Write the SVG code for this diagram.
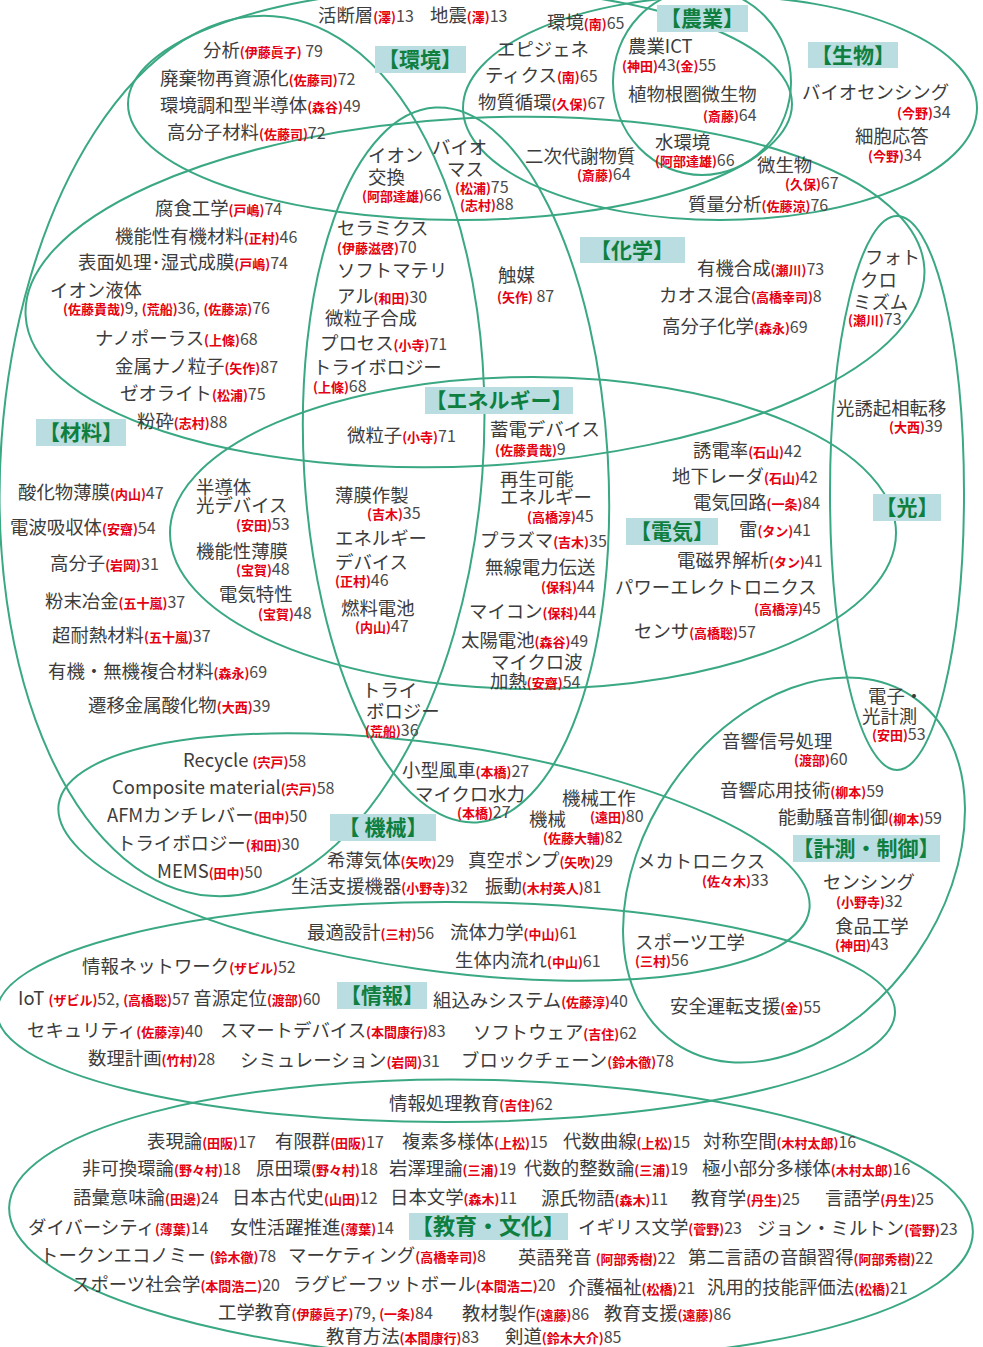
<svg xmlns="http://www.w3.org/2000/svg" width="983" height="1347" viewBox="0 0 983 1347">
<style>
text{font-family:"Noto Sans CJK JP","Noto Sans",sans-serif;font-size:18.4px;fill:#3c3c3c}
.r{fill:#e50012;font-weight:bold;font-size:13px}
.n{fill:#4a4a4a;font-size:16px}
.lab{fill:#0f7f3f;font-weight:bold;font-size:21px;text-anchor:middle}
.bg{fill:#b9dde0}
.c{fill:none;stroke:#3aa882;stroke-width:2}
</style>
<rect width="983" height="1347" fill="#ffffff"/>
<g id="regions">
<ellipse id="r-kankyo" class="c" cx="460" cy="104" rx="332" ry="116"/>
<ellipse id="r-nogyo" class="c" cx="702" cy="82" rx="89" ry="93"/>
<ellipse id="r-seibutsu" class="c" cx="720" cy="108" rx="257" ry="112"/>
<ellipse id="r-kagaku" class="c" cx="475" cy="292" rx="450" ry="174" transform="rotate(-3 475 292)"/>
<ellipse id="r-zairyo" class="c" cx="242" cy="456" rx="241" ry="441" transform="rotate(4.1 242 456)"/>
<ellipse id="r-energy" class="c" cx="456" cy="465" rx="152" ry="358" transform="rotate(-3.35 456 465)"/>
<ellipse id="r-denki" class="c" cx="533" cy="533" rx="363" ry="156"/>
<ellipse id="r-hikari" class="c" cx="897" cy="493" rx="67" ry="277"/>
<ellipse id="r-kikai" class="c" cx="434" cy="857" rx="379" ry="113" transform="rotate(8 434 857)"/>
<ellipse id="r-keisoku" class="c" cx="794" cy="870" rx="210" ry="149" transform="rotate(-55.5 794 870)"/>
<ellipse id="r-joho" class="c" cx="446" cy="1012" rx="449" ry="110"/>
<ellipse id="r-kyoiku" class="c" cx="491" cy="1220" rx="482" ry="140" transform="rotate(1.5 491 1220)"/>
</g>
<g id="labels">
<g id="l-kankyo"><rect class="bg" x="375" y="46" width="91" height="27"/><text class="lab" x="420" y="67">【環境】</text></g>
<g id="l-nogyo"><rect class="bg" x="657" y="5" width="91" height="27"/><text class="lab" x="702" y="26">【農業】</text></g>
<g id="l-seibutsu"><rect class="bg" x="808" y="42" width="90" height="26"/><text class="lab" x="853" y="63">【生物】</text></g>
<g id="l-kagaku"><rect class="bg" x="580" y="237" width="105" height="26"/><text class="lab" x="632" y="258">【化学】</text></g>
<g id="l-zairyo"><rect class="bg" x="36" y="419" width="90" height="27"/><text class="lab" x="81" y="440">【材料】</text></g>
<g id="l-energy"><rect class="bg" x="425" y="387" width="148" height="27"/><text class="lab" x="499" y="408">【エネルギー】</text></g>
<g id="l-denki"><rect class="bg" x="626" y="518" width="92" height="27"/><text class="lab" x="672" y="539">【電気】</text></g>
<g id="l-hikari"><rect class="bg" x="873" y="494" width="68" height="27"/><text class="lab" x="907" y="515">【光】</text></g>
<g id="l-kikai"><rect class="bg" x="330" y="814" width="106" height="27"/><text class="lab" x="383" y="835">【 機械】</text></g>
<g id="l-keisoku"><rect class="bg" x="793" y="835" width="147" height="27"/><text class="lab" x="866" y="856">【計測・制御】</text></g>
<g id="l-joho"><rect class="bg" x="337" y="982" width="90" height="27"/><text class="lab" x="382" y="1003">【情報】</text></g>
<g id="l-kyoiku"><rect class="bg" x="409" y="1213" width="159" height="27"/><text class="lab" x="488" y="1234" style="font-size:22px">【教育・文化】</text></g>
</g>
<g id="items-top">
<text x="318" y="22">活断層<tspan class="r">(澤)</tspan><tspan class="n">13</tspan></text>
<text x="430" y="22">地震<tspan class="r">(澤)</tspan><tspan class="n">13</tspan></text>
<text x="547" y="29">環境<tspan class="r">(南)</tspan><tspan class="n">65</tspan></text>
<text x="203" y="57">分析<tspan class="r">(伊藤眞子)</tspan><tspan class="n"> 79</tspan></text>
<text x="160" y="85">廃棄物再資源化<tspan class="r">(佐藤司)</tspan><tspan class="n">72</tspan></text>
<text x="160" y="112">環境調和型半導体<tspan class="r">(森谷)</tspan><tspan class="n">49</tspan></text>
<text x="167" y="139">高分子材料<tspan class="r">(佐藤司)</tspan><tspan class="n">72</tspan></text>
<text x="497" y="56">エピジェネ</text>
<text x="485" y="82">ティクス<tspan class="r">(南)</tspan><tspan class="n">65</tspan></text>
<text x="478" y="109">物質循環<tspan class="r">(久保)</tspan><tspan class="n">67</tspan></text>
<text x="628" y="53">農業ICT</text>
<text x="622" y="71"><tspan class="r">(神田)</tspan><tspan class="n">43</tspan><tspan class="r">(金)</tspan><tspan class="n">55</tspan></text>
<text x="628" y="101">植物根圏微生物</text>
<text x="703" y="121"><tspan class="r">(斎藤)</tspan><tspan class="n">64</tspan></text>
<text x="655" y="149">水環境</text>
<text x="655" y="166"><tspan class="r">(阿部達雄)</tspan><tspan class="n">66</tspan></text>
<text x="802" y="99">バイオセンシング</text>
<text x="897" y="118"><tspan class="r">(今野)</tspan><tspan class="n">34</tspan></text>
<text x="855" y="143">細胞応答</text>
<text x="868" y="161"><tspan class="r">(今野)</tspan><tspan class="n">34</tspan></text>
<text x="757" y="172">微生物</text>
<text x="785" y="189"><tspan class="r">(久保)</tspan><tspan class="n">67</tspan></text>
<text x="688" y="211">質量分析<tspan class="r">(佐藤涼)</tspan><tspan class="n">76</tspan></text>
<text x="525" y="163">二次代謝物質</text>
<text x="577" y="180"><tspan class="r">(斎藤)</tspan><tspan class="n">64</tspan></text>
<text x="368" y="162">イオン</text>
<text x="368" y="184">交換</text>
<text x="362" y="201"><tspan class="r">(阿部達雄)</tspan><tspan class="n">66</tspan></text>
<text x="432" y="154">バイオ</text>
<text x="447" y="176">マス</text>
<text x="455" y="193"><tspan class="r">(松浦)</tspan><tspan class="n">75</tspan></text>
<text x="460" y="210"><tspan class="r">(志村)</tspan><tspan class="n">88</tspan></text>
</g>
<g id="items-chem-mat">
<text x="155" y="215">腐食工学<tspan class="r">(戸嶋)</tspan><tspan class="n">74</tspan></text>
<text x="115" y="243">機能性有機材料<tspan class="r">(正村)</tspan><tspan class="n">46</tspan></text>
<text x="78" y="269">表面処理･湿式成膜<tspan class="r">(戸嶋)</tspan><tspan class="n">74</tspan></text>
<text x="50" y="297">イオン液体</text>
<text x="63" y="314"><tspan class="r">(佐藤貴哉)</tspan><tspan class="n">9, </tspan><tspan class="r">(荒船)</tspan><tspan class="n">36, </tspan><tspan class="r">(佐藤涼)</tspan><tspan class="n">76</tspan></text>
<text x="95" y="345">ナノポーラス<tspan class="r">(上條)</tspan><tspan class="n">68</tspan></text>
<text x="115" y="373">金属ナノ粒子<tspan class="r">(矢作)</tspan><tspan class="n">87</tspan></text>
<text x="120" y="400">ゼオライト<tspan class="r">(松浦)</tspan><tspan class="n">75</tspan></text>
<text x="137" y="428">粉砕<tspan class="r">(志村)</tspan><tspan class="n">88</tspan></text>
<text x="337" y="235">セラミクス</text>
<text x="337" y="253"><tspan class="r">(伊藤滋啓)</tspan><tspan class="n">70</tspan></text>
<text x="337" y="277">ソフトマテリ</text>
<text x="337" y="303">アル<tspan class="r">(和田)</tspan><tspan class="n">30</tspan></text>
<text x="325" y="325">微粒子合成</text>
<text x="320" y="350">プロセス<tspan class="r">(小寺)</tspan><tspan class="n">71</tspan></text>
<text x="313" y="374">トライボロジー</text>
<text x="313" y="392"><tspan class="r">(上條)</tspan><tspan class="n">68</tspan></text>
<text x="498" y="282">触媒</text>
<text x="497" y="302"><tspan class="r">(矢作)</tspan><tspan class="n"> 87</tspan></text>
<text x="697" y="275">有機合成<tspan class="r">(瀬川)</tspan><tspan class="n">73</tspan></text>
<text x="659" y="302">カオス混合<tspan class="r">(高橋幸司)</tspan><tspan class="n">8</tspan></text>
<text x="662" y="333">高分子化学<tspan class="r">(森永)</tspan><tspan class="n">69</tspan></text>
<text x="865" y="264">フォト</text>
<text x="860" y="287">クロ</text>
<text x="853" y="309">ミズム</text>
<text x="848" y="325"><tspan class="r">(瀬川)</tspan><tspan class="n">73</tspan></text>
<text x="836" y="415">光誘起相転移</text>
<text x="889" y="432"><tspan class="r">(大西)</tspan><tspan class="n">39</tspan></text>
</g>
<g id="items-energy-elec">
<text x="347" y="442">微粒子<tspan class="r">(小寺)</tspan><tspan class="n">71</tspan></text>
<text x="490" y="436">蓄電デバイス</text>
<text x="495" y="455"><tspan class="r">(佐藤貴哉)</tspan><tspan class="n">9</tspan></text>
<text x="693" y="457">誘電率<tspan class="r">(石山)</tspan><tspan class="n">42</tspan></text>
<text x="672" y="483">地下レーダ<tspan class="r">(石山)</tspan><tspan class="n">42</tspan></text>
<text x="693" y="509">電気回路<tspan class="r">(一条)</tspan><tspan class="n">84</tspan></text>
<text x="739" y="536">雷<tspan class="r">(タン)</tspan><tspan class="n">41</tspan></text>
<text x="677" y="567">電磁界解析<tspan class="r">(タン)</tspan><tspan class="n">41</tspan></text>
<text x="615" y="594">パワーエレクトロニクス</text>
<text x="754" y="614"><tspan class="r">(高橋淳)</tspan><tspan class="n">45</tspan></text>
<text x="634" y="638">センサ<tspan class="r">(高橋聡)</tspan><tspan class="n">57</tspan></text>
<text x="500" y="486">再生可能</text>
<text x="500" y="504">エネルギー</text>
<text x="527" y="522"><tspan class="r">(高橋淳)</tspan><tspan class="n">45</tspan></text>
<text x="480" y="547">プラズマ<tspan class="r">(吉木)</tspan><tspan class="n">35</tspan></text>
<text x="485" y="574">無線電力伝送</text>
<text x="541" y="592"><tspan class="r">(保科)</tspan><tspan class="n">44</tspan></text>
<text x="469" y="618">マイコン<tspan class="r">(保科)</tspan><tspan class="n">44</tspan></text>
<text x="461" y="647">太陽電池<tspan class="r">(森谷)</tspan><tspan class="n">49</tspan></text>
<text x="491" y="669">マイクロ波</text>
<text x="490" y="688">加熱<tspan class="r">(安齋)</tspan><tspan class="n">54</tspan></text>
<text x="335" y="502">薄膜作製</text>
<text x="367" y="519"><tspan class="r">(吉木)</tspan><tspan class="n">35</tspan></text>
<text x="335" y="545">エネルギー</text>
<text x="335" y="569">デバイス</text>
<text x="335" y="586"><tspan class="r">(正村)</tspan><tspan class="n">46</tspan></text>
<text x="341" y="615">燃料電池</text>
<text x="355" y="632"><tspan class="r">(内山)</tspan><tspan class="n">47</tspan></text>
<text x="196" y="494">半導体</text>
<text x="196" y="512">光デバイス</text>
<text x="236" y="530"><tspan class="r">(安田)</tspan><tspan class="n">53</tspan></text>
<text x="196" y="558">機能性薄膜</text>
<text x="236" y="575"><tspan class="r">(宝賀)</tspan><tspan class="n">48</tspan></text>
<text x="219" y="601">電気特性</text>
<text x="258" y="619"><tspan class="r">(宝賀)</tspan><tspan class="n">48</tspan></text>
<text x="18" y="499">酸化物薄膜<tspan class="r">(内山)</tspan><tspan class="n">47</tspan></text>
<text x="10" y="534">電波吸収体<tspan class="r">(安齋)</tspan><tspan class="n">54</tspan></text>
<text x="50" y="570">高分子<tspan class="r">(岩岡)</tspan><tspan class="n">31</tspan></text>
<text x="45" y="608">粉末冶金<tspan class="r">(五十嵐)</tspan><tspan class="n">37</tspan></text>
<text x="52" y="642">超耐熱材料<tspan class="r">(五十嵐)</tspan><tspan class="n">37</tspan></text>
<text x="48" y="678">有機・無機複合材料<tspan class="r">(森永)</tspan><tspan class="n">69</tspan></text>
<text x="88" y="712">遷移金属酸化物<tspan class="r">(大西)</tspan><tspan class="n">39</tspan></text>
<text x="362" y="697">トライ</text>
<text x="366" y="718">ボロジー</text>
<text x="365" y="736"><tspan class="r">(荒船)</tspan><tspan class="n">36</tspan></text>
</g>
<g id="items-mech-meas">
<text x="868" y="703">電子・</text>
<text x="862" y="723">光計測</text>
<text x="872" y="740"><tspan class="r">(安田)</tspan><tspan class="n">53</tspan></text>
<text x="722" y="748">音響信号処理</text>
<text x="794" y="765"><tspan class="r">(渡部)</tspan><tspan class="n">60</tspan></text>
<text x="720" y="797">音響応用技術<tspan class="r">(柳本)</tspan><tspan class="n">59</tspan></text>
<text x="778" y="824">能動騒音制御<tspan class="r">(柳本)</tspan><tspan class="n">59</tspan></text>
<text x="823" y="889">センシング</text>
<text x="836" y="907"><tspan class="r">(小野寺)</tspan><tspan class="n">32</tspan></text>
<text x="835" y="933">食品工学</text>
<text x="835" y="950"><tspan class="r">(神田)</tspan><tspan class="n">43</tspan></text>
<text x="183" y="767">Recycle <tspan class="r">(宍戸)</tspan><tspan class="n">58</tspan></text>
<text x="112" y="794">Composite material<tspan class="r">(宍戸)</tspan><tspan class="n">58</tspan></text>
<text x="107" y="822">AFMカンチレバー<tspan class="r">(田中)</tspan><tspan class="n">50</tspan></text>
<text x="117" y="850">トライボロジー<tspan class="r">(和田)</tspan><tspan class="n">30</tspan></text>
<text x="157" y="878">MEMS<tspan class="r">(田中)</tspan><tspan class="n">50</tspan></text>
<text x="402" y="777">小型風車<tspan class="r">(本橋)</tspan><tspan class="n">27</tspan></text>
<text x="415" y="801">マイクロ水力</text>
<text x="457" y="818"><tspan class="r">(本橋)</tspan><tspan class="n">27</tspan></text>
<text x="562" y="805">機械工作</text>
<text x="590" y="822"><tspan class="r">(遠田)</tspan><tspan class="n">80</tspan></text>
<text x="529" y="826">機械</text>
<text x="543" y="843"><tspan class="r">(佐藤大輔)</tspan><tspan class="n">82</tspan></text>
<text x="327" y="867">希薄気体<tspan class="r">(矢吹)</tspan><tspan class="n">29</tspan></text>
<text x="468" y="867">真空ポンプ<tspan class="r">(矢吹)</tspan><tspan class="n">29</tspan></text>
<text x="291" y="893">生活支援機器<tspan class="r">(小野寺)</tspan><tspan class="n">32</tspan></text>
<text x="485" y="893">振動<tspan class="r">(木村英人)</tspan><tspan class="n">81</tspan></text>
<text x="637" y="868">メカトロニクス</text>
<text x="702" y="886"><tspan class="r">(佐々木)</tspan><tspan class="n">33</tspan></text>
<text x="307" y="939">最適設計<tspan class="r">(三村)</tspan><tspan class="n">56</tspan></text>
<text x="450" y="939">流体力学<tspan class="r">(中山)</tspan><tspan class="n">61</tspan></text>
<text x="455" y="967">生体内流れ<tspan class="r">(中山)</tspan><tspan class="n">61</tspan></text>
<text x="635" y="949">スポーツ工学</text>
<text x="635" y="966"><tspan class="r">(三村)</tspan><tspan class="n">56</tspan></text>
</g>
<g id="items-info">
<text x="82" y="973">情報ネットワーク<tspan class="r">(ザビル)</tspan><tspan class="n">52</tspan></text>
<text x="18" y="1005">IoT <tspan class="r">(ザビル)</tspan><tspan class="n">52, </tspan><tspan class="r">(高橋聡)</tspan><tspan class="n">57 </tspan>音源定位<tspan class="r">(渡部)</tspan><tspan class="n">60</tspan></text>
<text x="433" y="1007">組込みシステム<tspan class="r">(佐藤淳)</tspan><tspan class="n">40</tspan></text>
<text x="670" y="1013">安全運転支援<tspan class="r">(金)</tspan><tspan class="n">55</tspan></text>
<text x="27" y="1037">セキュリティ<tspan class="r">(佐藤淳)</tspan><tspan class="n">40</tspan></text>
<text x="220" y="1037">スマートデバイス<tspan class="r">(本間康行)</tspan><tspan class="n">83</tspan></text>
<text x="473" y="1039">ソフトウェア<tspan class="r">(吉住)</tspan><tspan class="n">62</tspan></text>
<text x="88" y="1065">数理計画<tspan class="r">(竹村)</tspan><tspan class="n">28</tspan></text>
<text x="240" y="1067">シミュレーション<tspan class="r">(岩岡)</tspan><tspan class="n">31</tspan></text>
<text x="461" y="1067">ブロックチェーン<tspan class="r">(鈴木徹)</tspan><tspan class="n">78</tspan></text>
<text x="389" y="1110">情報処理教育<tspan class="r">(吉住)</tspan><tspan class="n">62</tspan></text>
</g>
<g id="items-edu">
<text x="147" y="1148">表現論<tspan class="r">(田阪)</tspan><tspan class="n">17</tspan></text>
<text x="275" y="1148">有限群<tspan class="r">(田阪)</tspan><tspan class="n">17</tspan></text>
<text x="402" y="1148">複素多様体<tspan class="r">(上松)</tspan><tspan class="n">15</tspan></text>
<text x="563" y="1148">代数曲線<tspan class="r">(上松)</tspan><tspan class="n">15</tspan></text>
<text x="703" y="1148">対称空間<tspan class="r">(木村太郎)</tspan><tspan class="n">16</tspan></text>
<text x="82" y="1175">非可換環論<tspan class="r">(野々村)</tspan><tspan class="n">18</tspan></text>
<text x="256" y="1175">原田環<tspan class="r">(野々村)</tspan><tspan class="n">18</tspan></text>
<text x="389" y="1175">岩澤理論<tspan class="r">(三浦)</tspan><tspan class="n">19</tspan></text>
<text x="524" y="1175">代数的整数論<tspan class="r">(三浦)</tspan><tspan class="n">19</tspan></text>
<text x="702" y="1175">極小部分多様体<tspan class="r">(木村太郎)</tspan><tspan class="n">16</tspan></text>
<text x="73" y="1204">語彙意味論<tspan class="r">(田邊)</tspan><tspan class="n">24</tspan></text>
<text x="232" y="1204">日本古代史<tspan class="r">(山田)</tspan><tspan class="n">12</tspan></text>
<text x="390" y="1204">日本文学<tspan class="r">(森木)</tspan><tspan class="n">11</tspan></text>
<text x="541" y="1205">源氏物語<tspan class="r">(森木)</tspan><tspan class="n">11</tspan></text>
<text x="691" y="1205">教育学<tspan class="r">(丹生)</tspan><tspan class="n">25</tspan></text>
<text x="825" y="1205">言語学<tspan class="r">(丹生)</tspan><tspan class="n">25</tspan></text>
<text x="28" y="1234">ダイバーシティ<tspan class="r">(薄葉)</tspan><tspan class="n">14</tspan></text>
<text x="230" y="1234">女性活躍推進<tspan class="r">(薄葉)</tspan><tspan class="n">14</tspan></text>
<text x="578" y="1234">イギリス文学<tspan class="r">(菅野)</tspan><tspan class="n">23</tspan></text>
<text x="757" y="1235">ジョン・ミルトン<tspan class="r">(菅野)</tspan><tspan class="n">23</tspan></text>
<text x="40" y="1262">トークンエコノミー <tspan class="r">(鈴木徹)</tspan><tspan class="n">78</tspan></text>
<text x="288" y="1262">マーケティング<tspan class="r">(高橋幸司)</tspan><tspan class="n">8</tspan></text>
<text x="518" y="1264">英語発音 <tspan class="r">(阿部秀樹)</tspan><tspan class="n">22</tspan></text>
<text x="688" y="1264">第二言語の音韻習得<tspan class="r">(阿部秀樹)</tspan><tspan class="n">22</tspan></text>
<text x="72" y="1291">スポーツ社会学<tspan class="r">(本間浩二)</tspan><tspan class="n">20</tspan></text>
<text x="293" y="1291">ラグビーフットボール<tspan class="r">(本間浩二)</tspan><tspan class="n">20</tspan></text>
<text x="568" y="1294">介護福祉<tspan class="r">(松橋)</tspan><tspan class="n">21</tspan></text>
<text x="707" y="1294">汎用的技能評価法<tspan class="r">(松橋)</tspan><tspan class="n">21</tspan></text>
<text x="218" y="1319">工学教育<tspan class="r">(伊藤眞子)</tspan><tspan class="n">79, </tspan><tspan class="r">(一条)</tspan><tspan class="n">84</tspan></text>
<text x="462" y="1320">教材製作<tspan class="r">(遠藤)</tspan><tspan class="n">86</tspan></text>
<text x="604" y="1320">教育支援<tspan class="r">(遠藤)</tspan><tspan class="n">86</tspan></text>
<text x="326" y="1343">教育方法<tspan class="r">(本間康行)</tspan><tspan class="n">83</tspan></text>
<text x="505" y="1343">剣道<tspan class="r">(鈴木大介)</tspan><tspan class="n">85</tspan></text>
</g>
</svg>
